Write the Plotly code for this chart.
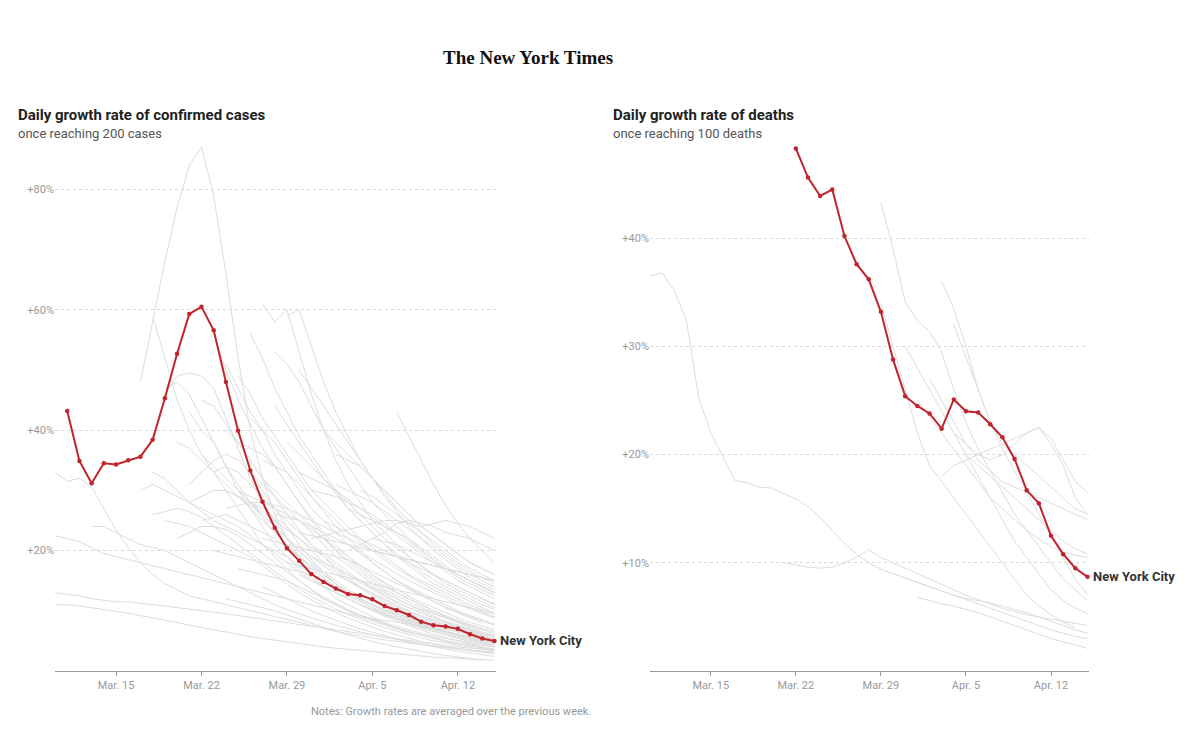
import plotly.graph_objects as go
import pandas as pd

# ---------------- data ----------------
tick_dates = ["2020-03-15", "2020-03-22", "2020-03-29", "2020-04-05", "2020-04-12"]
tick_labels = ["Mar. 15", "Mar. 22", "Mar. 29", "Apr. 5", "Apr. 12"]

cases_y_ticks = [20, 40, 60, 80]
cases_y_labels = ["+20%", "+40%", "+60%", "+80%"]
deaths_y_ticks = [10, 20, 30, 40]
deaths_y_labels = ["+10%", "+20%", "+30%", "+40%"]

nyc_cases_start = "2020-03-11"
nyc_cases = [43.2, 34.9, 31.2, 34.5, 34.3, 35.0, 35.6, 38.4, 45.3, 52.7, 59.3, 60.5,
             56.6, 48.0, 39.9, 33.3, 28.1, 23.8, 20.4, 18.3, 16.1, 14.8, 13.7, 12.8,
             12.6, 11.9, 10.8, 10.1, 9.3, 8.2, 7.6, 7.4, 7.0, 6.1, 5.4, 5.0]

nyc_deaths_start = "2020-03-22"
nyc_deaths = [48.3, 45.6, 43.9, 44.5, 40.2, 37.6, 36.2, 33.2, 28.8, 25.4, 24.5, 23.8,
              22.4, 25.1, 24.0, 23.9, 22.8, 21.6, 19.6, 16.7, 15.5, 12.5, 10.8, 9.5, 8.7]

# other places, confirmed cases (start date, daily values)
gc01 = ("2020-03-17", [48, 58, 68, 77, 84, 87, 79, 66, 52, 40, 32, 26, 22, 19, 16, 14, 12, 11, 10, 9, 8, 7, 6.5, 6, 5.5, 5, 4.6, 4.3, 4])
gc02 = ("2020-03-18", [59, 52, 45, 40, 36, 33, 30, 27, 24, 21, 19, 17, 15, 13.5, 12, 11, 10, 9, 8.3, 7.6, 7, 6.4, 5.9, 5.4, 5, 4.6, 4.2, 3.9, 3.6])
gc03 = ("2020-03-10", [33, 31.5, 32, 30.5, 27, 23.5, 20.5, 18, 16, 14.5, 13.5, 12.5, 12, 11.5, 11, 10.5, 10, 9.5, 9, 8.5, 8, 7.5, 7, 6.6, 6.2, 5.8, 5.5, 5.2, 4.9, 4.6, 4.3, 4.1, 3.9, 3.7, 3.5, 3.3, 3.1])
gc04 = ("2020-03-10", [22.5, 22, 21.5, 20.5, 19.5, 19, 18.5, 18, 17.5, 17, 16.5, 16, 15.5, 15, 14.5, 14, 13.5, 13, 12.5, 12, 11.5, 11, 10.5, 10, 9.5, 9, 8.7, 8.4, 8, 7.7, 7.4, 7.1, 6.8, 6.5, 6.2, 6, 5.8])
gc05 = ("2020-03-10", [13, 12.8, 12.5, 12, 11.8, 11.5, 11.5, 11.2, 11, 10.8, 10.5, 10.2, 10, 9.8, 9.5, 9.2, 9, 8.7, 8.4, 8.1, 7.8, 7.5, 7.2, 6.9, 6.6, 6.3, 6, 5.7, 5.4, 5.1, 4.8, 4.5, 4.2, 4, 3.8, 3.6, 3.4])
gc06 = ("2020-03-10", [11, 11, 10.8, 10.5, 10.3, 10, 9.6, 9.2, 8.8, 8.4, 8, 7.6, 7.2, 6.8, 6.4, 6, 5.7, 5.4, 5.1, 4.8, 4.5, 4.2, 4, 3.8, 3.6, 3.4, 3.2, 3, 2.8, 2.6, 2.4, 2.3, 2.2, 2.1, 2, 1.9, 1.8])
gc07 = ("2020-03-19", [47, 48, 46, 42, 38, 34, 30, 27, 24, 21, 19, 17, 15.5, 14, 13, 12, 11, 10, 9.3, 8.6, 8, 7.4, 6.9, 6.4, 6, 5.6, 5.2, 4.9])
gc08 = ("2020-03-19", [46, 49, 49.5, 49, 47, 42, 37, 32, 28, 25, 22, 20, 18, 16, 14.5, 13, 12, 11, 10.2, 9.5, 8.8, 8.2, 7.6, 7, 6.5, 6, 5.6, 5.2])
gc09 = ("2020-03-21", [43, 40, 38, 34, 31, 28, 25.5, 23, 21, 19, 17.5, 16, 14.5, 13, 12, 11, 10, 9.2, 8.5, 7.8, 7.2, 6.6, 6.1, 5.6, 5.2, 4.8])
gc10 = ("2020-03-17", [30, 31, 30, 29, 28, 27, 26, 25, 24, 22.5, 21, 19.5, 18, 16.5, 15, 14, 13, 12, 11, 10.2, 9.5, 8.8, 8.2, 7.6, 7, 6.5, 6, 5.6, 5.2, 4.8])
gc11 = ("2020-03-18", [33, 32, 30, 28, 26.5, 25, 24, 23, 22, 21, 20, 19, 17.5, 16, 15, 14, 13, 12, 11, 10, 9.2, 8.5, 7.8, 7.2, 6.6, 6.1, 5.6, 5.2, 4.8])
gc12 = ("2020-03-20", [38, 37, 35, 33, 31, 29, 27, 25, 23, 21, 19, 17, 15.5, 14, 12.5, 11.5, 10.5, 9.6, 8.8, 8, 7.3, 6.7, 6.1, 5.6, 5.1, 4.7, 4.3])
gc13 = ("2020-03-22", [36, 34, 32, 30, 28, 26, 24, 22, 20.5, 19, 17.5, 16, 15, 14, 13, 12, 11, 10, 9.2, 8.4, 7.7, 7, 6.4, 5.9, 5.4])
gc14 = ("2020-03-23", [56, 50, 45, 41, 37, 34, 31, 28, 25.5, 23, 21, 19, 17.5, 16, 14.5, 13, 12, 11, 10, 9, 8.2, 7.5, 6.8, 6.2])
gc15 = ("2020-03-24", [51, 47, 43, 40, 36, 33, 30, 27, 25, 23, 21, 19.5, 18, 16.5, 15, 14, 13, 12, 11, 10, 9.2, 8.5, 7.8])
gc16 = ("2020-03-25", [49, 46, 42, 39, 36, 33, 30, 28, 26, 24, 22, 20.5, 19, 17.5, 16, 15, 14, 13, 12, 11, 10.2, 9.5])
gc17 = ("2020-03-26", [56, 52, 47, 43, 39, 36, 33, 30, 27, 25, 23, 21, 19, 17.5, 16, 14.5, 13.5, 12.5, 11.5, 10.5, 9.6])
gc18 = ("2020-03-27", [61, 58, 60, 53, 46, 40, 35, 31, 28, 25, 23, 21, 19, 17.5, 16, 14.5, 13.5, 12.5, 11.5, 10.5])
gc19 = ("2020-03-28", [53, 51, 48, 44, 40, 37, 34, 31, 28, 26, 24, 22, 20, 18.5, 17, 15.5, 14.5, 13.5, 12.5])
gc20 = ("2020-03-29", [59, 60, 54, 48, 43, 39, 35, 32, 29, 26.5, 24, 22, 20, 18.5, 17, 15.5, 14.5, 13.5])
gc21 = ("2020-03-30", [50, 47, 44, 41, 38, 35, 32, 29.5, 27, 25, 23, 21, 19.5, 18, 16.5, 15.5, 14.5])
gc22 = ("2020-04-01", [40, 38, 36, 34, 32, 30, 28, 26, 24, 22.5, 21, 19.5, 18, 17, 16])
gc23 = ("2020-04-07", [43, 39, 35, 31, 27.5, 24.5, 22, 20, 18])
gc24 = ("2020-04-02", [36, 35, 34, 32, 30, 28, 26, 24, 22.5, 21, 19.5, 18, 17, 16])
gc25 = ("2020-03-31", [22, 22.5, 23, 23.5, 24, 24.5, 25, 25, 24.5, 24, 24.5, 25, 24.5, 24, 23, 22])
gc26 = ("2020-04-03", [20, 21, 22, 23, 24.5, 25, 24.5, 24, 23, 22.5, 22, 21, 20])
gc27 = ("2020-03-25", [30, 29, 28, 27.5, 27, 26, 25, 24, 23, 22, 21, 20, 19.5, 19, 18.5, 18, 17.5, 17, 16.5, 16, 15.5, 15])
gc28 = ("2020-03-21", [28, 29, 30, 30, 29, 27.5, 26, 24, 22, 20, 18, 16.5, 15, 13.5, 12.5, 11.5, 10.5, 9.6, 8.8, 8, 7.3, 6.6, 6, 5.5, 5, 4.6])
gc29 = ("2020-03-23", [33, 34, 33, 31, 29, 27, 25, 23, 21, 19.5, 18, 16.5, 15, 13.8, 12.6, 11.5, 10.5, 9.6, 8.8, 8, 7.3, 6.6, 6])
gc30 = ("2020-03-24", [40, 38, 35, 32, 30, 28, 26, 24, 22, 20, 18.5, 17, 15.5, 14, 13, 12, 11, 10, 9.2, 8.4, 7.7, 7])
gc31 = ("2020-03-25", [38, 37, 36, 34, 31, 28, 25, 22.5, 20, 18, 16.5, 15, 13.5, 12.5, 11.5, 10.5, 9.6, 8.8, 8, 7.2, 6.5, 5.9])
gc32 = ("2020-03-26", [42, 40, 38, 35, 32, 29, 26.5, 24, 22, 20, 18, 16.5, 15, 13.8, 12.6, 11.5, 10.5, 9.6, 8.8, 8])
gc33 = ("2020-03-27", [35, 34, 33, 31, 29, 27, 25, 23, 21.5, 20, 18.5, 17, 15.8, 14.6, 13.5, 12.5, 11.5, 10.6, 9.8, 9])
gc34 = ("2020-03-28", [44, 41, 38, 35, 32, 29.5, 27, 25, 23, 21, 19.5, 18, 16.5, 15.2, 14, 13, 12, 11, 10.2])
gc35 = ("2020-03-29", [38, 36, 34, 32, 30, 28, 26, 24, 22, 20.5, 19, 17.5, 16, 15, 14, 13, 12, 11])
gc36 = ("2020-03-30", [33, 32, 31, 30, 28.5, 27, 25.5, 24, 22.5, 21, 19.5, 18, 16.5, 15, 14, 13, 12])
gc37 = ("2020-03-31", [30, 29.5, 29, 28, 27, 26, 24.5, 23, 21.5, 20, 18.5, 17, 16, 15, 14, 13])
gc38 = ("2020-04-02", [31, 30, 29, 28, 26.5, 25, 23.5, 22, 20.5, 19, 17.5, 16, 15, 14])
gc39 = ("2020-04-04", [30, 29, 27.5, 26, 24.5, 23, 21.5, 20, 18.5, 17, 16, 15])
gc40 = ("2020-03-22", [25, 25.5, 26, 25, 24, 23, 22, 20.5, 19, 17.5, 16, 14.5, 13, 12, 11, 10, 9.2, 8.4, 7.7, 7, 6.4, 5.8, 5.3, 4.8, 4.4])
gc41 = ("2020-03-20", [22, 23, 24, 24, 23.5, 22.5, 21, 19.5, 18, 16.5, 15, 13.5, 12.3, 11.2, 10.2, 9.3, 8.5, 7.8, 7.1, 6.5, 5.9, 5.4, 4.9, 4.5, 4.1, 3.8, 3.5])
gc42 = ("2020-03-19", [25, 24.5, 24, 23, 22, 21, 20, 19, 17.5, 16, 14.5, 13, 11.8, 10.7, 9.7, 8.8, 8, 7.3, 6.6, 6, 5.4, 4.9, 4.5, 4.1, 3.7, 3.4, 3.1, 2.8])
gc43 = ("2020-03-24", [27, 27.5, 28, 27, 25.5, 24, 22, 20, 18, 16.5, 15, 13.7, 12.5, 11.4, 10.4, 9.5, 8.7, 8, 7.3, 6.7, 6.1, 5.6])
gc44 = ("2020-03-26", [28, 28, 27, 26, 25, 23.5, 22, 20.5, 19, 17.5, 16, 14.7, 13.5, 12.4, 11.4, 10.5, 9.6, 8.8, 8.1, 7.4, 6.8])
gc45 = ("2020-03-28", [26, 25.5, 25, 24, 23, 22, 21, 19.8, 18.6, 17.4, 16.2, 15, 14, 13, 12, 11.1, 10.3, 9.5, 8.8])
gc46 = ("2020-03-27", [22, 21.5, 21, 20.5, 20, 19.5, 19, 18.5, 17.5, 16.5, 15.5, 14.5, 13.5, 12.5, 11.5, 10.6, 9.8, 9, 8.3, 7.6])
gc47 = ("2020-03-23", [20, 19.5, 19, 18.5, 18, 17.5, 17, 16.5, 16, 15, 14, 13, 12, 11, 10, 9.2, 8.4, 7.7, 7, 6.4, 5.8, 5.3, 4.8])
gc48 = ("2020-03-30", [23, 22.5, 22, 21.5, 21, 20.5, 20, 19.5, 19, 18.5, 18, 17.5, 17, 16.5, 16, 15.5, 15])
gc49 = ("2020-04-01", [25, 24, 23, 22, 21, 20, 19, 18, 17, 16, 15, 14, 13, 12, 11.2])
gc50 = ("2020-03-29", [18, 17.5, 17, 16.5, 16, 15.5, 15, 14.5, 14, 13.5, 13, 12.5, 12, 11.5, 11, 10.5, 10, 9.5])
gc51 = ("2020-03-25", [17, 16.5, 16, 15.5, 15, 14, 13, 12, 11, 10, 9.3, 8.6, 8, 7.4, 6.8, 6.3, 5.8, 5.4, 5, 4.6, 4.3, 4])
gc52 = ("2020-03-31", [19, 18, 17, 16, 15, 14, 13, 12, 11, 10.2, 9.5, 8.8, 8.2, 7.6, 7, 6.5])
gc53 = ("2020-03-21", [31, 33, 35, 36, 35, 33, 30, 27, 24, 21, 18.5, 16.5, 14.5, 13, 11.7, 10.5, 9.5, 8.6, 7.8, 7.1, 6.5, 5.9, 5.4, 4.9, 4.5, 4.1])
gc54 = ("2020-03-22", [45, 44, 41, 38, 35, 32, 29, 26, 23.5, 21, 19, 17, 15.5, 14, 12.8, 11.7, 10.7, 9.8, 9, 8.2, 7.5, 6.9, 6.3, 5.8, 5.3])
gc55 = ("2020-03-23", [30, 30, 29, 28, 26.5, 25, 23.5, 22, 20.5, 19, 17.5, 16, 14.7, 13.5, 12.4, 11.4, 10.5, 9.6, 8.8, 8.1, 7.4, 6.8, 6.2, 5.7])
gc56 = ("2020-04-03", [27, 26, 25, 24, 23, 22, 20.5, 19, 17.5, 16, 15, 14, 13])
gc57 = ("2020-04-05", [22, 21.5, 21, 20, 19, 18, 17, 16, 15, 14, 13])
gc58 = ("2020-03-26", [33, 31, 29, 27, 25, 23, 21, 19, 17.5, 16, 14.5, 13.2, 12, 11, 10, 9.1, 8.3, 7.6, 6.9, 6.3, 5.8])
gc59 = ("2020-03-18", [26, 26.5, 27, 26.5, 25.5, 24, 22.5, 21, 19.5, 18, 16.5, 15, 13.6, 12.4, 11.3, 10.3, 9.4, 8.6, 7.9, 7.2, 6.6, 6, 5.5, 5, 4.6, 4.2, 3.9, 3.6, 3.3])
gc60 = ("2020-03-13", [24, 24, 23, 22, 21, 20.5, 20, 19, 18, 17, 16, 15, 14, 13, 12, 11, 10.2, 9.5, 8.8, 8.2, 7.6, 7, 6.5, 6, 5.6, 5.2, 4.8, 4.5, 4.2, 3.9, 3.6, 3.4, 3.2, 3])
gc61 = ("2020-03-27", [14, 13, 12, 11, 10, 9.2, 8.4, 7.7, 7, 6.4, 5.8, 5.3, 4.8, 4.4, 4, 3.6, 3.3, 3, 2.7, 2.4])
gc62 = ("2020-03-24", [12, 11.5, 11, 10.5, 10, 9.3, 8.6, 7.9, 7.2, 6.6, 6, 5.4, 4.9, 4.4, 4, 3.6, 3.2, 2.9, 2.6, 2.3, 2, 1.8])
gc63 = ("2020-03-30", [16, 15, 14, 13, 12, 11, 10, 9.1, 8.3, 7.5, 6.8, 6.1, 5.5, 5, 4.5, 4, 3.6])

# other places, deaths (start date, daily values)
gd01 = ("2020-03-10", [36.5, 36.8, 35.2, 32.4, 25.3, 22, 19.8, 17.6, 17.4, 17.0, 16.9, 16.4, 15.9, 15.2, 14.2, 13, 11.8, 10.8, 10, 9.4, 9, 8.6, 8.2, 7.8, 7.4, 7, 6.6, 6.2, 5.8, 5.4, 5, 4.6, 4.2, 3.8, 3.5, 3.2, 3])
gd02 = ("2020-03-29", [43.3, 39, 34.1, 32.4, 31.4, 29.5, 26, 23, 20.5, 18.5, 16.5, 14.5, 13, 11.5, 10, 8.5, 7.5, 6.5])
gd03 = ("2020-03-29", [34, 30, 26, 22, 19, 17.5, 16, 14.5, 13, 11.5, 10, 8.5, 7, 6, 5.2, 4.5, 4])
gd04 = ("2020-04-03", [36, 33.5, 30, 26, 23, 21, 20, 19, 18, 17, 16, 15, 14.5])
gd05 = ("2020-04-03", [18, 19, 19.5, 20, 20.5, 21, 21.5, 22, 22.5, 21.5, 19.5, 17.5, 16.5])
gd06 = ("2020-04-04", [22, 21, 20, 19.5, 20, 21, 22, 22.5, 21, 19, 16, 14.5])
gd07 = ("2020-04-02", [27, 25, 23, 21, 19.5, 18.5, 17.5, 17, 16.5, 16, 15.5, 15, 14.5, 14])
gd08 = ("2020-04-01", [25, 23.5, 22, 20.5, 19, 17.5, 16, 15, 14, 13, 12.2, 11.5, 11, 10.7, 10.5])
gd09 = ("2020-04-05", [20, 19, 18, 17, 16, 15, 14, 13, 12, 11.3, 10.8])
gd10 = ("2020-03-21", [10, 9.8, 9.6, 9.5, 9.6, 10, 10.5, 11.2, 10.5, 10, 9.5, 9, 8.5, 8, 7.5, 7, 6.6, 6.2, 5.8, 5.5, 5.2, 5, 4.8, 4.6, 4.4, 4.2])
gd11 = ("2020-04-01", [6.8, 6.5, 6.2, 6, 5.7, 5.4, 5, 4.6, 4.2, 3.8, 3.4, 3, 2.7, 2.4, 2.1])
gd12 = ("2020-03-30", [9, 8.6, 8.2, 7.8, 7.4, 7, 6.7, 6.5, 6.3, 6, 5.7, 5.4, 5, 4.6, 4.2, 3.8, 3.5])
gd13 = ("2020-03-31", [30, 28, 26, 24, 22, 20, 18, 16, 14, 12, 10.5, 9, 7.5, 6.5, 5.8, 5.3])
gd14 = ("2020-04-04", [32, 29, 26, 23, 20.5, 18.5, 16.5, 14.5, 12.5, 10.5, 8.5, 7])

case_lines = [gc01, gc02, gc03, gc04, gc05, gc06, gc07, gc08, gc09, gc10, gc11, gc12, gc13,
              gc14, gc15, gc16, gc17, gc18, gc19, gc20, gc21, gc22, gc23, gc24, gc25, gc26,
              gc27, gc28, gc29, gc30, gc31, gc32, gc33, gc34, gc35, gc36, gc37, gc38, gc39,
              gc40, gc41, gc42, gc43, gc44, gc45, gc46, gc47, gc48, gc49, gc50, gc51, gc52,
              gc53, gc54, gc55, gc56, gc57, gc58, gc59, gc60, gc61, gc62, gc63]
death_lines = [gd01, gd02, gd03, gd04, gd05, gd06, gd07, gd08, gd09, gd10, gd11, gd12, gd13, gd14]

# ---------------- figure ----------------
W, H = 1200, 731
RED = "#c0242c"
GRAY_LINE = "#dddddd"
FONT = "Roboto"


def dates(start, n):
    return pd.date_range(start, periods=n, freq="D")


fig = go.Figure()

for start, vals in case_lines:
    fig.add_trace(go.Scatter(x=dates(start, len(vals)), y=vals, mode="lines",
                             line=dict(color=GRAY_LINE, width=1), hoverinfo="skip",
                             showlegend=False, xaxis="x", yaxis="y"))
for start, vals in death_lines:
    fig.add_trace(go.Scatter(x=dates(start, len(vals)), y=vals, mode="lines",
                             line=dict(color=GRAY_LINE, width=1), hoverinfo="skip",
                             showlegend=False, xaxis="x2", yaxis="y2"))

fig.add_trace(go.Scatter(x=dates(nyc_cases_start, len(nyc_cases)), y=nyc_cases,
                         mode="lines+markers", line=dict(color=RED, width=2),
                         marker=dict(color=RED, size=4.5), showlegend=False,
                         cliponaxis=False, xaxis="x", yaxis="y"))
fig.add_trace(go.Scatter(x=dates(nyc_deaths_start, len(nyc_deaths)), y=nyc_deaths,
                         mode="lines+markers", line=dict(color=RED, width=2),
                         marker=dict(color=RED, size=4.5), showlegend=False,
                         cliponaxis=False, xaxis="x2", yaxis="y2"))

y_bottom = 1 - 671 / H
y_top = 1 - 145 / H
xrange = ["2020-03-10", "2020-04-15 03:00"]

xaxis_common = dict(type="date", range=xrange, showgrid=False, showline=True,
                    linecolor="#999", linewidth=1, ticks="outside", ticklen=4,
                    tickcolor="#999", tickvals=tick_dates, ticktext=tick_labels,
                    tickfont=dict(family=FONT, size=11, color="#999"), zeroline=False,
                    fixedrange=True)
yaxis_common = dict(showline=False, showgrid=True, gridcolor="#d9d9d9", griddash="dot",
                    gridwidth=1, zeroline=False, ticks="",
                    tickfont=dict(family=FONT, size=11, color="#999"), fixedrange=True)

fig.update_layout(
    width=W, height=H, margin=dict(l=0, r=0, t=0, b=0),
    paper_bgcolor="white", plot_bgcolor="white",
    xaxis=dict(domain=[55 / W, 496 / W], anchor="y", **xaxis_common),
    xaxis2=dict(domain=[650 / W, 1089 / W], anchor="y2", **xaxis_common),
    yaxis=dict(domain=[y_bottom, y_top], anchor="x", range=[0, 526 / 6.02],
               tickvals=cases_y_ticks, ticktext=cases_y_labels, **yaxis_common),
    yaxis2=dict(domain=[y_bottom, y_top], anchor="x2", range=[0, 526 / 10.82],
                tickvals=deaths_y_ticks, ticktext=deaths_y_labels, **yaxis_common),
)

def px_y(y):
    return 1 - y / H

annots = [
    dict(text="<b>The New York Times</b>", x=528 / W, y=px_y(57), xref="paper", yref="paper",
         showarrow=False, xanchor="center", yanchor="middle",
         font=dict(family="Liberation Serif", size=19, color="#111")),
    dict(text="<b>Daily growth rate of confirmed cases</b>", x=16 / W, y=px_y(115),
         xref="paper", yref="paper", showarrow=False, xanchor="left", yanchor="middle",
         font=dict(family=FONT, size=15, color="#222")),
    dict(text="once reaching 200 cases", x=16 / W, y=px_y(133), xref="paper", yref="paper",
         showarrow=False, xanchor="left", yanchor="middle",
         font=dict(family=FONT, size=13, color="#555")),
    dict(text="<b>Daily growth rate of deaths</b>", x=611 / W, y=px_y(115),
         xref="paper", yref="paper", showarrow=False, xanchor="left", yanchor="middle",
         font=dict(family=FONT, size=15, color="#222")),
    dict(text="once reaching 100 deaths", x=611 / W, y=px_y(133), xref="paper", yref="paper",
         showarrow=False, xanchor="left", yanchor="middle",
         font=dict(family=FONT, size=13, color="#555")),
    dict(text="Notes: Growth rates are averaged over the previous week.", x=593 / W,
         y=px_y(711), xref="paper", yref="paper", showarrow=False, xanchor="right",
         yanchor="middle", font=dict(family=FONT, size=11, color="#999")),
    dict(text="<b>New York City</b>", x=dates(nyc_cases_start, len(nyc_cases))[-1],
         y=nyc_cases[-1], xref="x", yref="y", showarrow=False, xanchor="left",
         yanchor="middle", xshift=4, font=dict(family=FONT, size=13, color="#333")),
    dict(text="<b>New York City</b>", x=dates(nyc_deaths_start, len(nyc_deaths))[-1],
         y=nyc_deaths[-1], xref="x2", yref="y2", showarrow=False, xanchor="left",
         yanchor="middle", xshift=4, font=dict(family=FONT, size=13, color="#333")),
]
fig.update_layout(annotations=annots)

fig.write_html("out.html")
